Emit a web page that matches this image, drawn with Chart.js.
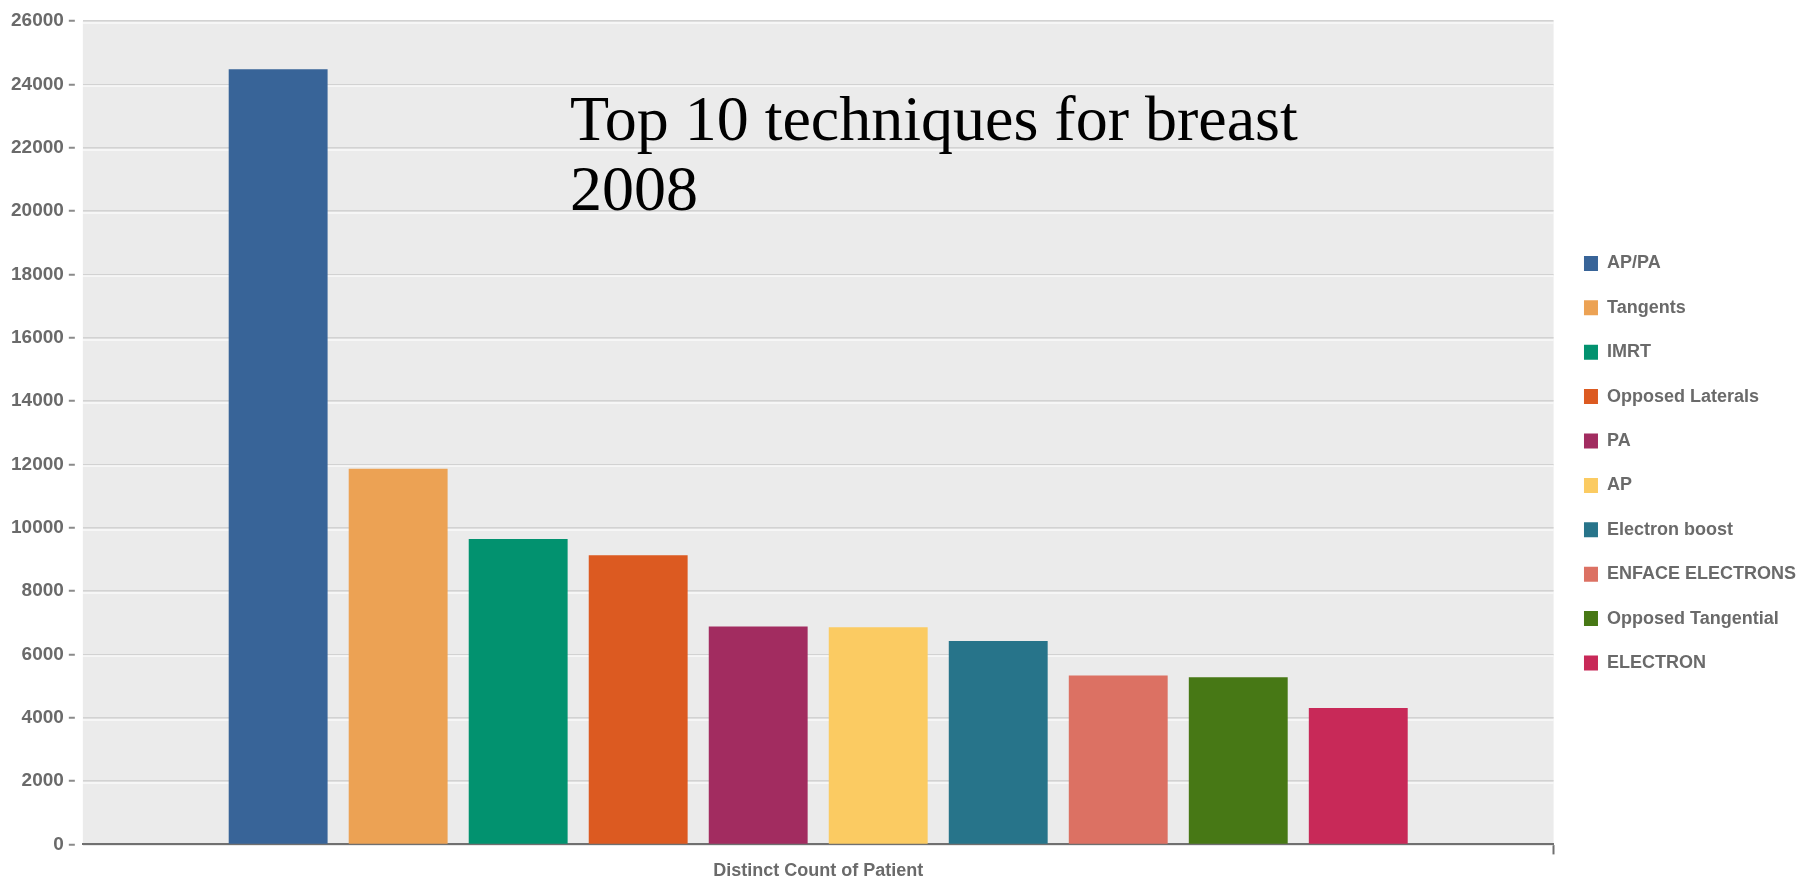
<!DOCTYPE html>
<html>
<head>
<meta charset="utf-8">
<title>Top 10 techniques for breast 2008</title>
<script src="https://cdn.jsdelivr.net/npm/chart.js@4/dist/chart.umd.min.js"></script>
<style>
  html, body { margin: 0; padding: 0; background: #fff; }
  canvas { display: block; }
</style>
</head>
<body>
<canvas id="techChart" width="1799" height="883"></canvas>
<script>
// patients per technique, breast site, 2008
var categories = ['Distinct Count of Patient'];
var techniques = [
    'AP/PA', 'Tangents', 'IMRT', 'Opposed Laterals', 'PA',
    'AP', 'Electron boost', 'ENFACE ELECTRONS', 'Opposed Tangential', 'ELECTRON'
];
var patientCounts = [24480, 11860, 9640, 9130, 6880, 6860, 6420, 5330, 5280, 4310];
var barColors = [
    '#386498', '#eca254', '#02926f', '#dc5a21', '#a22c60',
    '#fbcb62', '#27748a', '#dc7163', '#477815', '#c82958'
];
var yTicks = { min: 0, max: 26000, step: 2000 };
var titleLines = ['Top 10 techniques for breast', '2008'];

var labelFont = '"Liberation Sans", Arial, sans-serif';
var labelGray = '#6a6a6a';

// grey plot panel behind the grid
var panelBackground = {
    id: 'panelBackground',
    beforeDraw: function (chart) {
        var a = chart.chartArea, ctx = chart.ctx;
        ctx.save();
        ctx.fillStyle = '#ebebeb';
        ctx.fillRect(a.left, a.top, a.right - a.left, a.bottom - a.top);
        ctx.restore();
    }
};

// white highlight under every grid line (etched look)
var gridHighlight = {
    id: 'gridHighlight',
    beforeDatasetsDraw: function (chart) {
        var y = chart.scales.y, a = chart.chartArea, ctx = chart.ctx;
        ctx.save();
        ctx.strokeStyle = '#fafafa';
        ctx.lineWidth = 1.5;
        y.ticks.forEach(function (t) {
            if (t.value === 0) return;
            var py = Math.round(y.getPixelForValue(t.value)) + 2;
            ctx.beginPath();
            ctx.moveTo(a.left, py);
            ctx.lineTo(a.right, py);
            ctx.stroke();
        });
        ctx.restore();
    }
};

// two-line serif heading laid over the plot
var slideTitle = {
    id: 'slideTitle',
    afterDraw: function (chart) {
        var ctx = chart.ctx;
        ctx.save();
        ctx.fillStyle = '#000';
        ctx.font = '64px "Liberation Serif", "Times New Roman", serif';
        ctx.textAlign = 'left';
        ctx.textBaseline = 'alphabetic';
        titleLines.forEach(function (line, i) {
            ctx.fillText(line, 570, 140 + i * 70);
        });
        ctx.restore();
    }
};

var datasets = techniques.map(function (name, i) {
    return {
        label: name,
        data: [patientCounts[i]],
        backgroundColor: barColors[i],
        borderWidth: 0,
        categoryPercentage: 0.816,
        barPercentage: 0.824
    };
});

new Chart(document.getElementById('techChart'), {
    type: 'bar',
    data: { labels: categories, datasets: datasets },
    options: {
        responsive: false,
        animation: false,
        layout: { padding: { top: 21, left: 6, right: -7, bottom: -5 } },
        scales: {
            x: {
                grid: {
                    display: true,
                    drawOnChartArea: false,
                    tickLength: 10,
                    tickWidth: 2,
                    tickColor: function (c) { return c.index === 0 ? 'rgba(0,0,0,0)' : '#707070'; }
                },
                border: { display: true, color: '#707070', width: 2 },
                ticks: {
                    color: labelGray,
                    padding: 6,
                    font: { family: labelFont, size: 18, weight: 'bold' }
                }
            },
            y: {
                min: yTicks.min,
                max: yTicks.max,
                border: { display: false },
                grid: {
                    color: '#d2d2d2',
                    lineWidth: 1.5,
                    tickLength: 14,
                    tickColor: '#8a8a8a',
                    tickWidth: 2,
                    tickBorderDash: [6, 30]
                },
                ticks: {
                    stepSize: yTicks.step,
                    color: labelGray,
                    padding: 5,
                    font: { family: labelFont, size: 19, weight: 'bold' },
                    callback: function (value) { return String(value); }
                }
            },
            spacer: {
                type: 'linear',
                position: 'right',
                display: true,
                grid: { display: false },
                border: { display: false },
                ticks: { display: false },
                afterFit: function (scale) { scale.width = 4; }
            }
        },
        plugins: {
            legend: {
                position: 'right',
                align: 'start',
                title: {
                    display: true,
                    text: '',
                    font: { size: 10, lineHeight: 1 },
                    padding: { top: 197, bottom: 0 }
                },
                labels: {
                    boxWidth: 14,
                    boxHeight: 15,
                    padding: 26.4,
                    color: labelGray,
                    font: { family: labelFont, size: 18, weight: 'bold' }
                }
            },
            tooltip: { enabled: false }
        }
    },
    plugins: [panelBackground, gridHighlight, slideTitle]
});
</script>
</body>
</html>
